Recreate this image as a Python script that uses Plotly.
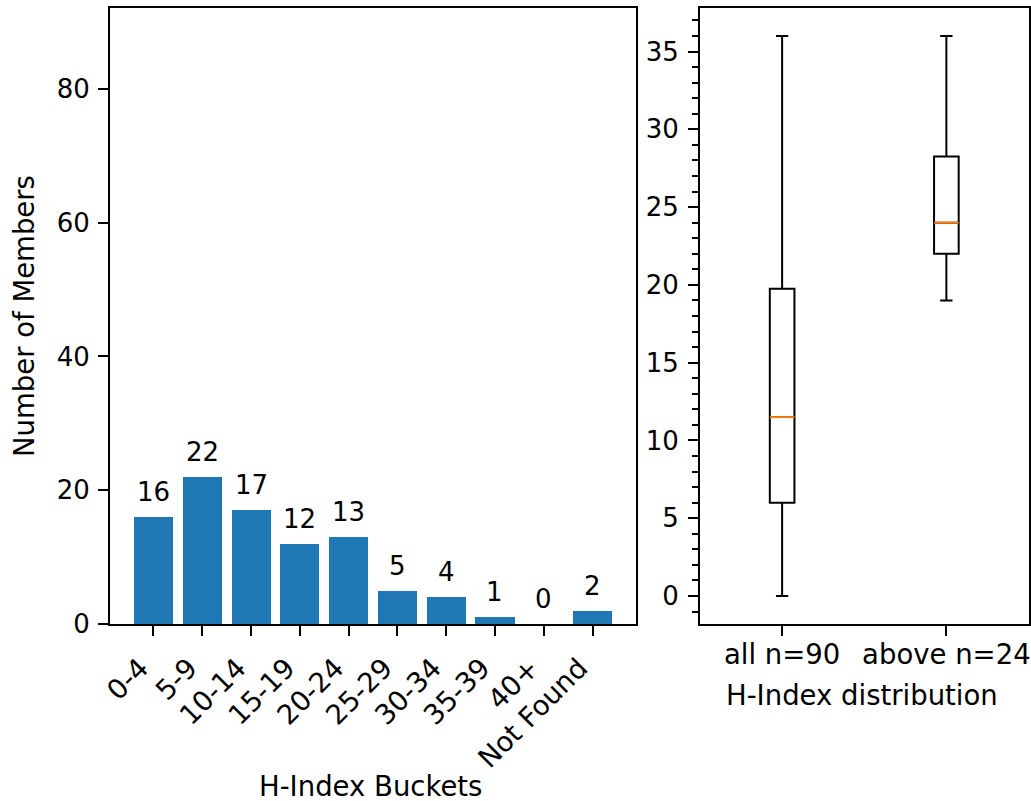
import plotly.graph_objects as go

# H-index bucket counts
buckets = ["0-4", "5-9", "10-14", "15-19", "20-24", "25-29", "30-34", "35-39", "40+", "Not Found"]
members = [16, 22, 17, 12, 13, 5, 4, 1, 0, 2]

# Box-plot summary statistics for the H-index distribution
box_labels = ["all n=90", "above n=24"]
box_pos = [1, 2]
box_low = [0, 19]
box_q1 = [6, 22]
box_median = [11.5, 24]
box_q3 = [19.75, 28.25]
box_high = [36, 36]
box_width = 0.15

W, H = 1031, 801
FONT = "DejaVu Sans"
FS_NUM = 26
FS_TXT = 27.5
BLUE = "#1f77b4"
ORANGE = "#ff7f0e"


def px_x(p):
    return p / W


def px_y(p):
    return 1 - p / H


fig = go.Figure()

fig.add_trace(go.Bar(
    x=buckets, y=members, width=0.8,
    marker=dict(color=BLUE, line=dict(width=0)),
    xaxis="x", yaxis="y", showlegend=False,
))

for xv, yv in zip(buckets, members):
    fig.add_annotation(
        x=xv, y=yv, xref="x", yref="y", text=str(yv), showarrow=False,
        yanchor="bottom", yshift=8, font=dict(family=FONT, size=FS_NUM, color="black"),
    )

for i in range(len(box_pos)):
    fig.add_trace(go.Box(
        x=[box_pos[i]], q1=[box_q1[i]], median=[box_median[i]], q3=[box_q3[i]],
        lowerfence=[box_low[i]], upperfence=[box_high[i]],
        width=box_width, whiskerwidth=0.5, boxpoints=False,
        line=dict(color="black", width=2), fillcolor="rgba(0,0,0,0)",
        xaxis="x2", yaxis="y2", showlegend=False, hoverinfo="skip",
    ))
    fig.add_trace(go.Scatter(
        x=[box_pos[i] - box_width / 2, box_pos[i] + box_width / 2],
        y=[box_median[i], box_median[i]], mode="lines",
        line=dict(color=ORANGE, width=2),
        xaxis="x2", yaxis="y2", showlegend=False, hoverinfo="skip",
    ))

axis_common = dict(
    showline=True, linecolor="black", linewidth=2, mirror=True,
    ticks="outside", ticklen=10, tickwidth=2, tickcolor="black",
    showgrid=False, zeroline=False, automargin=False,
)
num_font = dict(family=FONT, size=FS_NUM, color="black")
txt_font = dict(family=FONT, size=FS_TXT, color="black")

fig.update_layout(
    width=W, height=H,
    margin=dict(l=0, r=0, t=0, b=0),
    paper_bgcolor="white", plot_bgcolor="white",
    bargap=0,
    xaxis=dict(domain=[px_x(110), px_x(636)], anchor="y", range=[-0.89, 9.89],
               tickangle=-45, tickfont=txt_font, ticklabelstandoff=5,
               ticklabelshift=-13, **axis_common),
    yaxis=dict(domain=[px_y(624), px_y(8)], anchor="x", range=[0, 92.1],
               tickvals=[0, 20, 40, 60, 80], tickfont=num_font,
               ticklabelstandoff=3, **axis_common),
    xaxis2=dict(domain=[px_x(700), px_x(1028.5)], anchor="y2", range=[0.5, 2.5],
                tickvals=box_pos, ticktext=box_labels, tickfont=txt_font,
                ticklabelstandoff=-5, **axis_common),
    yaxis2=dict(domain=[px_y(624), px_y(8)], anchor="x2", range=[-1.8, 37.8],
                tickvals=[0, 5, 10, 15, 20, 25, 30, 35], tickfont=num_font,
                ticklabelstandoff=4,
                minor=dict(dtick=1, ticks="outside", ticklen=6, tickwidth=2,
                           tickcolor="black", showgrid=False),
                **axis_common),
)

fig.add_annotation(text="Number of Members", xref="paper", yref="paper",
                   x=px_x(24), y=px_y(316), textangle=-90, showarrow=False,
                   xanchor="center", yanchor="middle", font=txt_font)
fig.add_annotation(text="H-Index Buckets", xref="paper", yref="paper",
                   x=px_x(370), y=px_y(786), showarrow=False,
                   xanchor="center", yanchor="middle", font=txt_font)
fig.add_annotation(text="H-Index distribution", xref="paper", yref="paper",
                   x=px_x(862), y=px_y(695), showarrow=False,
                   xanchor="center", yanchor="middle", font=txt_font)

fig.write_html("out.html")
